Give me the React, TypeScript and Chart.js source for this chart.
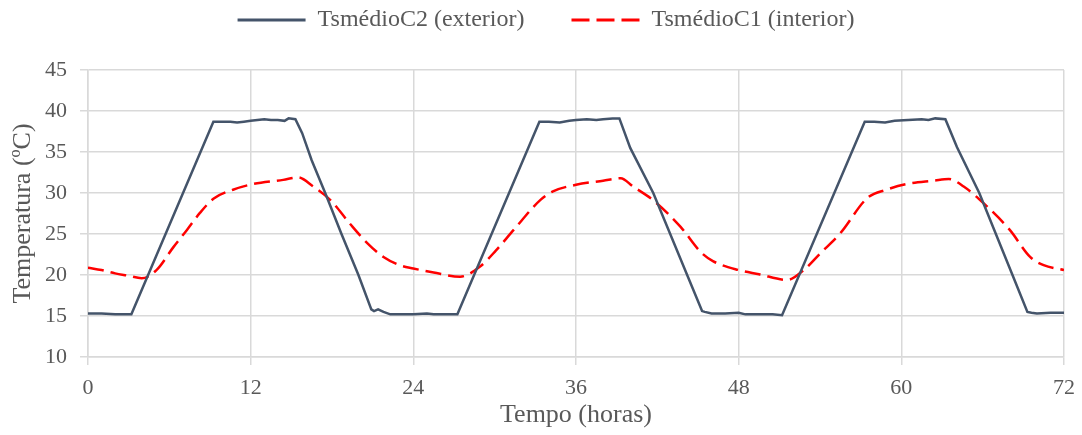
import React, { useEffect, useRef } from "react";
import { Chart, registerables } from "chart.js";

Chart.register(...registerables);

// Tempo (horas) / temperatura média da superfície exterior (C2)
const exteriorHours = [
  0, 1, 2, 3, 3.2, 9.25, 10, 10.5, 11, 11.5, 12, 12.5, 13, 13.5, 14, 14.5, 14.8, 15.3,
  15.8, 16.5, 17.5, 18.7, 19.95, 20.9, 21.1, 21.4, 21.8, 22.3, 23, 24, 25, 25.5, 26, 27.25,
  33.3, 34, 34.8, 35.5, 36, 36.8, 37.5, 38, 38.7, 39.2,
  40.0, 41.7, 44.2, 45.3, 45.5, 46, 47, 48, 48.5, 49.5, 50.5, 51.2,
  57.3, 58, 58.8, 59.5, 60.5, 61.5, 62, 62.5, 63.25,
  64.1, 65.75, 68.2, 69.3, 69.6, 70, 71, 72,
];
const exteriorTemps = [
  15.3, 15.3, 15.2, 15.2, 15.2, 38.7, 38.7, 38.7, 38.6, 38.7, 38.8, 38.9, 39.0, 38.9, 38.9, 38.8, 39.1, 39.0,
  37.3, 34.0, 30.0, 25.0, 20.0, 15.8, 15.6, 15.8, 15.5, 15.2, 15.2, 15.2, 15.3, 15.2, 15.2, 15.2,
  38.7, 38.7, 38.6, 38.8, 38.9, 39.0, 38.9, 39.0, 39.1, 39.1,
  35.5, 30.0, 20.0, 15.6, 15.5, 15.3, 15.3, 15.4, 15.2, 15.2, 15.2, 15.1,
  38.7, 38.7, 38.6, 38.8, 38.9, 39.0, 38.9, 39.1, 39.0,
  35.6, 30.0, 20.0, 15.5, 15.4, 15.3, 15.4, 15.4,
];

// Tempo (horas) / temperatura média da superfície interior (C1)
const interiorHours = [
  0, 1, 2, 3, 3.96, 5.05, 6.3, 7.3, 8.27, 9.25, 10.7, 12.2, 14.4, 15.5, 16.6, 17.9, 19.3, 20.6, 21.8, 23,
  24, 25.5, 27.45, 28.9, 30.1, 31.4, 33.4, 34.3, 36, 38, 39.3, 40.2, 41.7, 43.7, 45.2, 46.1,
  48, 49.5, 51.6, 52.8, 54, 55.5, 57.5, 58.9, 60.4, 62.4, 63.5, 64.6, 66.1, 68, 69.5, 70.5, 72,
];
const interiorTemps = [
  20.9, 20.6, 20.2, 19.9, 19.6, 20.6, 23.4, 25.5, 27.6, 29.3, 30.4, 31.1, 31.6, 31.9, 30.8, 29.1, 26.3, 23.9, 22.2, 21.2,
  20.8, 20.3, 19.8, 21.0, 23.0, 25.5, 29.2, 30.2, 31.0, 31.5, 31.8, 30.8, 29.1, 25.9, 22.8, 21.7,
  20.6, 20.1, 19.4, 20.6, 22.6, 25.1, 29.4, 30.4, 31.1, 31.5, 31.7, 30.8, 28.7, 25.5, 22.2, 21.2, 20.6,
];

const xTicks = [0, 12, 24, 36, 48, 60, 72];
const yTicks = [10, 15, 20, 25, 30, 35, 40, 45];

const seriesNames = ["TsmédioC2 (exterior)", "TsmédioC1 (interior)"];

const FONT = "'Liberation Serif', 'Times New Roman', serif";
const TEXT = "#595959";
const GRID = "#D9D9D9";

const toPoints = (xs: number[], ys: number[]) => xs.map((x, i) => ({ x, y: ys[i] }));

// Fixes the legend band height so the plot area starts lower on the canvas
const legendBand = {
  id: "legendBand",
  beforeLayout(chart: any) {
    const legend = chart.legend;
    if (legend && !legend.__banded) {
      const fit = legend.fit;
      legend.fit = function () {
        fit.call(this);
        this.height = 109;
      };
      legend.__banded = true;
    }
  },
};

export default function App() {
  const canvasRef = useRef<HTMLCanvasElement | null>(null);

  useEffect(() => {
    const canvas = canvasRef.current;
    if (!canvas) return;

    const chart = new Chart(canvas, {
      type: "line",
      data: {
        datasets: [
          {
            label: seriesNames[0],
            data: toPoints(exteriorHours, exteriorTemps),
            borderColor: "#44546A",
            backgroundColor: "#44546A",
            borderWidth: 2.5,
            pointRadius: 0,
            tension: 0,
          },
          {
            label: seriesNames[1],
            data: toPoints(interiorHours, interiorTemps),
            borderColor: "#FF0000",
            backgroundColor: "#FF0000",
            borderWidth: 2.5,
            borderDash: [16, 7],
            pointRadius: 0,
            cubicInterpolationMode: "monotone",
          },
        ],
      },
      options: {
        responsive: false,
        animation: false,
        events: [],
        layout: { padding: { top: -39, left: 28, right: 18, bottom: 0 } },
        plugins: {
          tooltip: { enabled: false },
          legend: {
            position: "top",
            labels: {
              usePointStyle: true,
              pointStyle: "line",
              pointStyleWidth: 68,
              padding: 47,
              color: TEXT,
              font: { family: FONT, size: 24 },
              generateLabels(c: any) {
                const items = Chart.defaults.plugins.legend.labels.generateLabels(c);
                return items.map((it: any, i: number) => ({
                  ...it,
                  pointStyle: "line",
                  lineWidth: 3,
                  lineDash: i === 1 ? [18, 7] : [],
                }));
              },
            },
          },
        },
        scales: {
          x: {
            type: "linear",
            min: 0,
            max: 72,
            afterBuildTicks(scale: any) {
              scale.ticks = xTicks.map((v) => ({ value: v }));
            },
            afterFit(scale: any) {
              scale.height = 78;
              scale.paddingLeft = 0;
              scale.paddingRight = 0;
            },
            grid: { color: GRID, lineWidth: 1.5, tickLength: 8 },
            border: { color: GRID, width: 1.5 },
            ticks: {
              color: TEXT,
              padding: 10,
              maxRotation: 0,
              font: { family: FONT, size: 22 },
            },
            title: {
              display: true,
              text: "Tempo (horas)",
              color: TEXT,
              font: { family: FONT, size: 26 },
              padding: { top: 0, bottom: 4 },
            },
          },
          y: {
            type: "linear",
            min: 10,
            max: 45,
            afterBuildTicks(scale: any) {
              scale.ticks = yTicks.map((v) => ({ value: v }));
            },
            afterFit(scale: any) {
              scale.width = 60;
            },
            grid: { color: GRID, lineWidth: 1.5, tickLength: 8 },
            border: { color: GRID, width: 1.5 },
            ticks: {
              color: TEXT,
              padding: 13,
              font: { family: FONT, size: 22 },
            },
            title: {
              display: true,
              text: "Temperatura (ºC)",
              color: TEXT,
              font: { family: FONT, size: 26 },
              padding: { top: -20, bottom: 0 },
            },
          },
        },
      },
      plugins: [legendBand],
    } as any);

    return () => chart.destroy();
  }, []);

  return (
    <div style={{ position: "absolute", left: 0, top: 0, width: 1082, height: 435, background: "#fff" }}>
      <canvas ref={canvasRef} width={1082} height={435} style={{ display: "block" }} />
    </div>
  );
}
